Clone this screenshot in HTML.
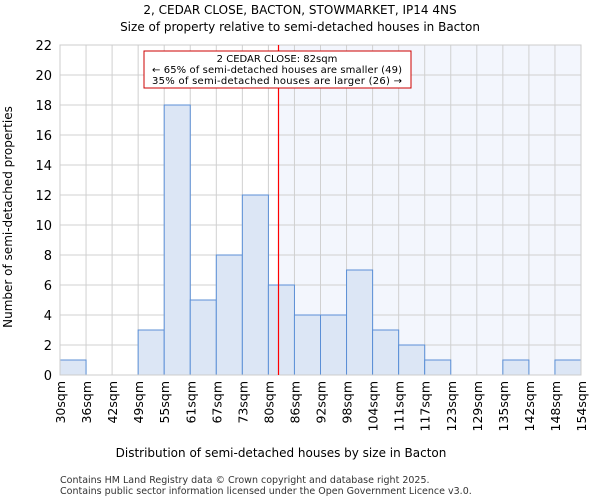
<!DOCTYPE html>
<html><head><meta charset="utf-8"><style>
body{margin:0;background:#fff;font-family:"DejaVu Sans","Liberation Sans",sans-serif}
svg text{font-family:"DejaVu Sans","Liberation Sans",sans-serif}
</style></head><body>
<svg id="c" width="600" height="500" xmlns="http://www.w3.org/2000/svg">
<text x="300" y="14" text-anchor="middle" font-size="12">2, CEDAR CLOSE, BACTON, STOWMARKET, IP14 4NS</text>
<text x="300" y="31" text-anchor="middle" font-size="12">Size of property relative to semi-detached houses in Bacton</text>
<g id="g"></g>
<text x="281" y="457" text-anchor="middle" font-size="12">Distribution of semi-detached houses by size in Bacton</text>
<text transform="translate(12,217) rotate(-90)" text-anchor="middle" font-size="12">Number of semi-detached properties</text>
<text x="60" y="483" font-size="9.5" fill="#333">Contains HM Land Registry data © Crown copyright and database right 2025.</text>
<text x="60" y="494" font-size="9.5" fill="#333">Contains public sector information licensed under the Open Government Licence v3.0.</text>
</svg>
<script>
const categories=["30sqm","36sqm","42sqm","49sqm","55sqm","61sqm","67sqm","73sqm","80sqm","86sqm","92sqm","98sqm","104sqm","111sqm","117sqm","123sqm","129sqm","135sqm","142sqm","148sqm","154sqm"];
const counts=[1,0,0,3,18,5,8,12,6,4,4,7,3,2,1,0,0,1,0,1];
const yTicks=[0,2,4,6,8,10,12,14,16,18,20,22];
const subjectBin=8.35;
const NS="http://www.w3.org/2000/svg";
const L=60,R=581,T=45,B=375,YMAX=22;
const bw=(R-L)/counts.length;
const x=i=>L+i*bw, y=v=>B-(v/YMAX)*(B-T);
const g=document.getElementById('g');
function mk(t,a){const e=document.createElementNS(NS,t);for(const k in a)e.setAttribute(k,a[k]);g.appendChild(e);return e;}
const sx=Math.round(x(subjectBin))+0.5;
let e=mk('rect',{x:sx,y:T,width:R-sx,height:B-T,fill:'#f3f6fd'});


yTicks.forEach(v=>{let l=mk('line',{x1:L,x2:R,y1:y(v),y2:y(v),stroke:'#d0d0d0'});


let t=mk('text',{x:L-8,y:y(v)+5,'text-anchor':'end','font-size':13});t.textContent=v;

});
categories.forEach((c,i)=>{let l=mk('line',{x1:x(i),x2:x(i),y1:T,y2:B,stroke:'#d0d0d0'});


let t=mk('text',{transform:`translate(${x(i)+5},${B+6}) rotate(-90)`,'text-anchor':'end','font-size':12.5});t.textContent=c;

});
counts.forEach((v,i)=>{if(!v)return;let r=mk('rect',{x:x(i),y:y(v),width:bw,height:B-y(v),fill:'#dce6f5',stroke:'#5b8fd6','stroke-width':1});

});
e=mk('rect',{x:L,y:T,width:R-L,height:B-T,fill:'none',stroke:'#cccccc'});


e=mk('line',{x1:sx,x2:sx,y1:T,y2:B,stroke:'#ff0000','stroke-width':1.2});


e=mk('rect',{x:144,y:51,width:267,height:37,fill:'#fff',stroke:'#cc0000'});


["2 CEDAR CLOSE: 82sqm","← 65% of semi-detached houses are smaller (49)","35% of semi-detached houses are larger (26) →"].forEach((s,i)=>{let t=mk('text',{x:277,y:62+i*11,'text-anchor':'middle','font-size':10});if(i)t.setAttribute('textLength',250);t.textContent=s;

});
</script>
</body></html>
